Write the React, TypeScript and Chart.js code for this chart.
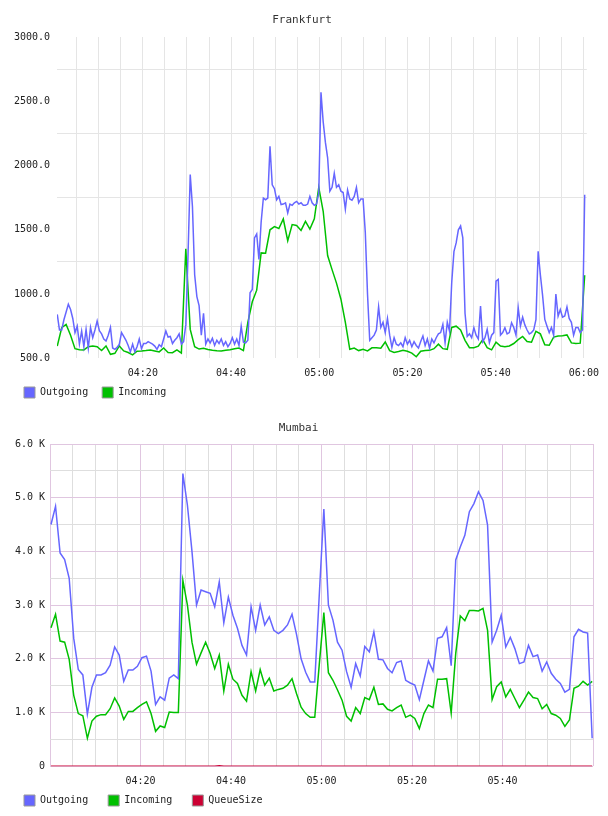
import { useEffect, useRef } from 'react';
import { Chart, registerables } from 'chart.js';

Chart.register(...registerables);

const FONT = '"DejaVu Sans Mono", monospace';
const TEXT_COLOR = '#222';
const OUT_COLOR = '#6666ff';
const IN_COLOR = '#00c000';
const QUEUE_COLOR = '#cc0033';

// ---- Frankfurt: minutes after 04:00, samples every 30.15 s (outgoing) / 60.3 s (incoming)
const FRA_START_MIN = 0.59;
const FRA_OUT_STEP_SEC = 30.15;
const FRA_IN_STEP_SEC = 60.3;

const FRA_OUTGOING = [
  841, 720, 720, 800, 860, 920, 880, 810, 700, 750,
  610, 712, 591, 725, 580, 740, 660, 720, 790, 715,
  690, 650, 635, 680, 740, 580, 570, 585, 610, 700,
  670, 640, 600, 550, 610, 550, 590, 650, 575, 615,
  615, 630, 620, 610, 595, 570, 605, 590, 650, 712,
  665, 670, 615, 640, 660, 690, 610, 630, 760, 1300,
  1930, 1680, 1150, 980, 910, 680, 850, 610, 650, 620,
  655, 600, 640, 615, 650, 600, 630, 590, 615, 660,
  610, 650, 600, 750, 625, 620, 640, 1010, 1036, 1437,
  1468, 1269, 1560, 1747, 1734, 1747, 2150, 1850, 1820, 1734,
  1760, 1696, 1700, 1710, 1631, 1700, 1690, 1710, 1721, 1700,
  1710, 1690, 1690, 1700, 1760, 1710, 1690, 1700, 1786, 2570,
  2340, 2180, 2060, 1800, 1830, 1940, 1830, 1850, 1800, 1790,
  1660, 1810, 1740, 1730, 1760, 1830, 1710, 1740, 1740, 1480,
  1000, 640, 660, 680, 720, 900, 740, 780, 700, 810,
  680, 585, 660, 610, 600, 620, 590, 660, 610, 640,
  590, 630, 600, 580, 630, 673, 600, 650, 580, 650,
  620, 660, 690, 700, 764, 622, 780, 712, 1090, 1330,
  1398, 1500, 1530, 1437, 850, 670, 690, 660, 738, 680,
  650, 906, 630, 660, 725, 622, 680, 700, 1100, 1113,
  680, 700, 738, 690, 700, 777, 740, 680, 893, 751,
  820, 760, 720, 690, 700, 720, 800, 1333, 1150, 990,
  803, 750, 700, 740, 680, 1000, 828, 880, 820, 830,
  900, 810, 780, 680, 740, 740, 700, 720, 1773,
];

const FRA_INCOMING = [
  595, 738, 764, 680, 575, 567, 565, 590, 596, 590,
  560, 596, 531, 539, 596, 557, 545, 527, 555, 557,
  560, 564, 557, 550, 580, 545, 544, 565, 540, 1352,
  725, 590, 572, 578, 568, 562, 558, 557, 562, 566,
  575, 580, 560, 780, 940, 1030, 1320, 1318, 1500, 1525,
  1510, 1584, 1415, 1540, 1533, 1495, 1565, 1505, 1585, 1830,
  1644, 1300, 1190, 1085, 960, 780, 570, 580, 560, 570,
  558, 582, 583, 578, 627, 560, 546, 553, 562, 555,
  540, 512, 555, 560, 562, 575, 610, 575, 570, 740,
  750, 720, 640, 583, 583, 594, 645, 583, 566, 625,
  596, 590, 596, 615, 645, 670, 630, 625, 710, 690,
  605, 601, 665, 673, 676, 682, 620, 615, 618, 1146,
];

const FRA_X_MIN = 0.53;
const FRA_X_MAX = 120.66;
const FRA_Y_MIN = 500;
const FRA_Y_MAX = 3000;
const FRA_X_TICKS = [5, 10, 15, 20, 25, 30, 35, 40, 45, 50, 55, 60, 65, 70, 75, 80, 85, 90, 95, 100, 105, 110, 115, 120];
const FRA_Y_TICKS = [500, 750, 1000, 1250, 1500, 1750, 2000, 2250, 2500, 2750, 3000];

// ---- Mumbai: minutes after 04:00, samples every 60.3 s
const MUM_START_MIN = 0.22;
const MUM_STEP_SEC = 60.3;

const MUM_OUTGOING = [
  4500, 4840, 3970, 3850, 3500, 2380, 1800, 1700, 970, 1470,
  1700, 1700, 1740, 1880, 2220, 2070, 1580, 1790, 1790, 1860,
  2020, 2050, 1770, 1150, 1290, 1230, 1640, 1700, 1630, 5450,
  4860, 4000, 3000, 3280, 3250, 3220, 2970, 3430, 2670, 3150,
  2810, 2570, 2250, 2070, 2970, 2530, 3000, 2630, 2780, 2530,
  2470, 2530, 2630, 2830, 2450, 2000, 1750, 1570, 1570, 3200,
  4790, 3000, 2720, 2310, 2160, 1760, 1470, 1910, 1680, 2230,
  2130, 2500, 1990, 1980, 1820, 1740, 1930, 1960, 1600, 1550,
  1510, 1240, 1600, 1960, 1770, 2380, 2410, 2580, 1870, 3840,
  4080, 4300, 4740, 4890, 5110, 4950, 4490, 2310, 2530, 2810,
  2220, 2400, 2190, 1910, 1940, 2250, 2040, 2070, 1770, 1940,
  1730, 1620, 1540, 1380, 1430, 2410, 2550, 2500, 2480, 520,
];

const MUM_INCOMING = [
  2580, 2830, 2330, 2310, 1990, 1320, 980, 940, 520, 840,
  930, 960, 960, 1070, 1270, 1120, 870, 1020, 1020, 1090,
  1150, 1200, 980, 650, 750, 720, 1010, 1000, 1000, 3460,
  3000, 2310, 1900, 2110, 2310, 2100, 1820, 2070, 1400, 1900,
  1620, 1540, 1320, 1210, 1760, 1400, 1800, 1510, 1640, 1400,
  1430, 1450, 1510, 1630, 1350, 1100, 980, 910, 910, 1900,
  2860, 1740, 1600, 1420, 1230, 930, 840, 1090, 980, 1280,
  1240, 1470, 1150, 1160, 1060, 1030, 1090, 1140, 910, 950,
  890, 700, 980, 1140, 1090, 1620, 1620, 1630, 990, 2100,
  2800, 2710, 2900, 2900, 2890, 2940, 2530, 1240, 1480, 1570,
  1290, 1430, 1260, 1090, 1230, 1380, 1280, 1260, 1070, 1150,
  980, 950, 890, 740, 860, 1450, 1490, 1580, 1510, 1580,
];

const MUM_QUEUE = [
  0, 0, 0, 0, 0, 0, 0, 0, 0, 0,
  0, 0, 0, 0, 0, 0, 0, 0, 0, 0,
  0, 0, 0, 0, 0, 0, 0, 0, 0, 0,
  0, 0, 0, 0, 0, 0, 0, 10, 0, 0,
  0, 0, 0, 0, 0, 0, 0, 0, 0, 0,
  0, 0, 0, 0, 0, 0, 0, 0, 0, 0,
  0, 0, 0, 0, 0, 0, 0, 0, 0, 0,
  0, 0, 0, 0, 0, 0, 0, 0, 0, 0,
  0, 0, 0, 0, 0, 0, 0, 0, 0, 0,
  0, 0, 0, 0, 0, 0, 0, 0, 0, 0,
  0, 0, 0, 0, 0, 0, 0, 0, 0, 0,
  0, 0, 0, 0, 0, 0, 0, 0, 0, 0,
];

const MUM_X_MIN = 0;
const MUM_X_MAX = 120;
const MUM_Y_MIN = 0;
const MUM_Y_MAX = 6000;
const MUM_X_TICKS = [0, 5, 10, 15, 20, 25, 30, 35, 40, 45, 50, 55, 60, 65, 70, 75, 80, 85, 90, 95, 100, 105, 110, 115, 120];
const MUM_Y_TICKS = [0, 500, 1000, 1500, 2000, 2500, 3000, 3500, 4000, 4500, 5000, 5500, 6000];

const GRID_GRAY = 'rgb(229,229,229)';
const MUM_GRID_MAJOR = 'rgb(224,198,224)';
const MUM_GRID_MINOR = 'rgb(222,222,222)';

function toPoints(values: number[], startMin: number, stepSec: number) {
  return values.map((v, i) => ({ x: startMin + (i * stepSec) / 60, y: v }));
}

function clockLabel(minutes: number) {
  const h = 4 + Math.floor(minutes / 60);
  const m = Math.round(minutes % 60);
  return `${String(h).padStart(2, '0')}:${String(m).padStart(2, '0')}`;
}

function lineDataset(label: string, color: string, data: { x: number; y: number }[]) {
  return {
    label,
    data,
    borderColor: color,
    backgroundColor: color,
    borderWidth: 1.5,
    pointRadius: 0,
    pointHoverRadius: 0,
    fill: false,
    tension: 0,
  };
}

function legendOptions(padding: number) {
  return {
    position: 'bottom' as const,
    align: 'start' as const,
    labels: {
      font: { family: FONT, size: 10 },
      color: TEXT_COLOR,
      boxWidth: 11,
      boxHeight: 11,
      padding,
      generateLabels: (chart: any) =>
        chart.data.datasets.map((ds: any, i: number) => ({
          text: ds.label,
          fillStyle: ds.borderColor,
          strokeStyle: '#999',
          lineWidth: 1,
          hidden: false,
          datasetIndex: i,
          fontColor: TEXT_COLOR,
        })),
    },
  };
}

function titleOptions(text: string, top: number, bottom: number) {
  return {
    display: true,
    text,
    color: '#333',
    font: { family: FONT, size: 11, weight: 'normal' as const },
    padding: { top, bottom },
  };
}

// The time labels share their band with the legend row, so let the x axis
// clip box run to the bottom of the canvas instead of stopping at the legend.
const timeLabelBand = {
  id: 'timeLabelBand',
  afterLayout(chart: any) {
    const x = chart.scales.x;
    if (x) x.bottom = chart.height;
  },
};

export default function App() {
  const topRef = useRef<HTMLCanvasElement>(null);
  const bottomRef = useRef<HTMLCanvasElement>(null);

  useEffect(() => {
    Chart.defaults.font.family = FONT;

    const frankfurt = new Chart(topRef.current!, {
      type: 'line',
      data: {
        datasets: [
          lineDataset('Outgoing', OUT_COLOR, toPoints(FRA_OUTGOING, FRA_START_MIN, FRA_OUT_STEP_SEC)),
          lineDataset('Incoming', IN_COLOR, toPoints(FRA_INCOMING, FRA_START_MIN, FRA_IN_STEP_SEC)),
        ],
      },
      plugins: [timeLabelBand],
      options: {
        responsive: false,
        animation: false,
        events: [],
        layout: { autoPadding: false, padding: { left: 10, right: 14, top: 0, bottom: 0 } },
        plugins: {
          title: titleOptions('Frankfurt', 13.4, 10.4),
          legend: legendOptions(14),
          tooltip: { enabled: false },
        },
        scales: {
          x: {
            type: 'linear',
            min: FRA_X_MIN,
            max: FRA_X_MAX,
            afterBuildTicks: (s: any) => {
              s.ticks = FRA_X_TICKS.map((value) => ({ value }));
            },
            afterFit: (s: any) => {
              s.height = 14.7;
            },
            ticks: {
              autoSkip: false,
              maxRotation: 0,
              padding: 9,
              color: TEXT_COLOR,
              font: { family: FONT, size: 10 },
              callback: (v: any) => (Number(v) % 20 === 0 ? clockLabel(Number(v)) : ''),
            },
            grid: { color: GRID_GRAY, drawTicks: false, lineWidth: 1 },
            border: { display: false },
          },
          y: {
            type: 'linear',
            min: FRA_Y_MIN,
            max: FRA_Y_MAX,
            afterBuildTicks: (s: any) => {
              s.ticks = FRA_Y_TICKS.map((value) => ({ value }));
            },
            afterFit: (s: any) => {
              s.width = 47;
            },
            ticks: {
              autoSkip: false,
              padding: 7,
              color: TEXT_COLOR,
              font: { family: FONT, size: 10 },
              callback: (v: any) => (Number(v) % 500 === 0 ? Number(v).toFixed(1) : ''),
            },
            grid: {
              color: (ctx: any) => (ctx.tick && ctx.tick.value % 500 === 0 ? 'rgba(0,0,0,0)' : GRID_GRAY),
              drawTicks: false,
            },
            border: { display: false },
          },
        },
      },
    } as any);

    const mumbai = new Chart(bottomRef.current!, {
      type: 'line',
      data: {
        datasets: [
          lineDataset('Outgoing', OUT_COLOR, toPoints(MUM_OUTGOING, MUM_START_MIN, MUM_STEP_SEC)),
          lineDataset('Incoming', IN_COLOR, toPoints(MUM_INCOMING, MUM_START_MIN, MUM_STEP_SEC)),
          lineDataset('QueueSize', QUEUE_COLOR, toPoints(MUM_QUEUE, MUM_START_MIN, MUM_STEP_SEC)),
        ],
      },
      plugins: [timeLabelBand],
      options: {
        responsive: false,
        animation: false,
        events: [],
        layout: { autoPadding: false, padding: { left: 4, right: 15, top: 0, bottom: 0 } },
        plugins: {
          title: titleOptions('Mumbai', 13.7, 9.1),
          legend: legendOptions(20),
          tooltip: { enabled: false },
        },
        scales: {
          x: {
            type: 'linear',
            min: MUM_X_MIN,
            max: MUM_X_MAX,
            afterBuildTicks: (s: any) => {
              s.ticks = MUM_X_TICKS.map((value) => ({ value }));
            },
            afterFit: (s: any) => {
              s.height = 8.8;
            },
            ticks: {
              autoSkip: false,
              maxRotation: 0,
              padding: 9.7,
              color: TEXT_COLOR,
              font: { family: FONT, size: 10 },
              callback: (v: any) => {
                const n = Number(v);
                return n % 20 === 0 && n > MUM_X_MIN && n < MUM_X_MAX ? clockLabel(n) : '';
              },
            },
            grid: {
              color: (ctx: any) => (ctx.tick && ctx.tick.value % 20 === 0 ? MUM_GRID_MAJOR : MUM_GRID_MINOR),
              drawTicks: false,
            },
            border: { display: false },
          },
          y: {
            type: 'linear',
            min: MUM_Y_MIN,
            max: MUM_Y_MAX,
            afterBuildTicks: (s: any) => {
              s.ticks = MUM_Y_TICKS.map((value) => ({ value }));
            },
            afterFit: (s: any) => {
              s.width = 46;
            },
            ticks: {
              autoSkip: false,
              padding: 5,
              color: TEXT_COLOR,
              font: { family: FONT, size: 10 },
              callback: (v: any) => {
                const n = Number(v);
                if (n === 0) return '0';
                return n % 1000 === 0 ? `${(n / 1000).toFixed(1)} K` : '';
              },
            },
            grid: {
              color: (ctx: any) => (ctx.tick && ctx.tick.value % 1000 === 0 ? MUM_GRID_MAJOR : MUM_GRID_MINOR),
              drawTicks: false,
            },
            border: { display: false },
          },
        },
      },
    } as any);

    return () => {
      frankfurt.destroy();
      mumbai.destroy();
    };
  }, []);

  return (
    <div style={{ position: 'absolute', left: 0, top: 0, width: 608, height: 816, background: '#fff' }}>
      <canvas ref={topRef} width={608} height={408} style={{ display: 'block' }} />
      <canvas ref={bottomRef} width={608} height={408} style={{ display: 'block' }} />
    </div>
  );
}
